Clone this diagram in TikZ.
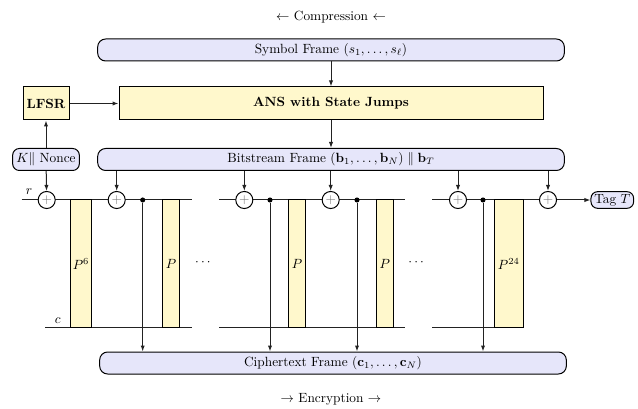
\documentclass[tikz,border=0pt]{standalone}
\usepackage{amsmath,amssymb}
\usepackage{tikz}
\usetikzlibrary{calc,arrows.meta,backgrounds}
\definecolor{framefill}{HTML}{E6E6FA}
\definecolor{permfill}{HTML}{FFF8CC}
\definecolor{rail}{HTML}{222222}
\begin{document}
\begin{tikzpicture}[x=0.75pt,y=-0.75pt,
  frame/.style={draw, fill=framefill, rounded corners=6pt, line width=0.75pt,
    minimum width=350pt, minimum height=16.5pt, inner sep=1pt},
  block/.style={draw, fill=permfill, line width=0.75pt, minimum height=24.75pt, inner sep=1pt},
  perm/.style={draw, fill=permfill, line width=0.75pt, minimum height=95.8pt, inner sep=0pt},
  xor/.style={circle, draw, fill=white, line width=0.75pt, minimum size=12.8pt, inner sep=0pt},
  dot/.style={circle, fill=black, minimum size=3.8pt, inner sep=0pt},
  arr/.style={-{Latex[length=4.5pt,width=3.2pt]}, line width=0.75pt, color=rail},
  ln/.style={line width=0.75pt, color=rail}]
\useasboundingbox (0,0) rectangle (638,409);
\def\top{200}
\def\bot{327.7}
% frames and blocks
\node at (331,17) {$\leftarrow$ Compression $\leftarrow$};
\node[frame] (sym) at (331,50) {Symbol Frame $(s_1,\ldots,s_\ell)$};
\node[block, minimum width=34.5pt] (lfsr) at (46,103.5) {\textbf{LFSR}};
\node[block, minimum width=318pt] (ans) at (331,103.5) {\textbf{ANS with State Jumps}};
\node[frame, minimum width=50pt, rounded corners=5pt] (key) at (46,159.5) {$K\|$ Nonce};
\node[frame] (bits) at (331,159.5) {Bitstream Frame $(\mathbf{b}_1,\ldots,\mathbf{b}_N)\;\|\;\mathbf{b}_T$};
\node[frame] (ctext) at (333,363) {Ciphertext Frame $(\mathbf{c}_1,\ldots,\mathbf{c}_N)$};
\node at (331,399) {$\rightarrow$ Encryption $\rightarrow$};
% permutations
\node[perm, minimum width=16pt] (p1) at (81,263.85) {$P^6$};
\node[perm, minimum width=13pt] (p2) at (171,263.85) {$P$};
\node[perm, minimum width=13pt] (p3) at (297,263.85) {$P$};
\node[perm, minimum width=13pt] (p4) at (384.8,263.85) {$P$};
\node[perm, minimum width=21.75pt] (p5) at (508.8,263.85) {$P^{24}$};
\node at (204,263) {$\cdots$};
\node at (417.3,263) {$\cdots$};
% xor gates and taps
\foreach \n/\x in {1/46.7,2/116.7,3/244.3,4/330.7,5/458,6/548}
  \node[xor] (x\n) at (\x,\top) {\color{black!55}$+$};
\foreach \n/\x in {1/142.7,2/270,3/357,4/483}
  \node[dot] (d\n) at (\x,\top) {};
\node[frame, minimum width=32pt, minimum height=12.5pt, rounded corners=5pt, inner sep=0.5pt] (tag) at (612.3,200) {Tag $T$};
\node at (29,192) {$r$};
\node at (57.7,320.5) {$c$};
% rate and capacity lines
\coordinate (rin) at (21.7,\top);
\coordinate (cin) at (45,\bot);
\coordinate (cend) at (432.3,\bot);
\begin{scope}[on background layer]
  \draw[ln] (rin) -- (191.7,\top);
  \draw[ln] (cin) -- (191.7,\bot);
  \draw[ln] (219,\top) -- (405.3,\top);
  \draw[ln] (219,\bot) -- (405.3,\bot);
  \draw[ln] (432.3,\top) -- (x6);
  \draw[ln] (cend) -- (cend -| p5.west);
\end{scope}
% connectors
\draw[arr] (sym) -- (ans);
\draw[arr] (lfsr) -- (ans);
\draw[arr] (key) -- (lfsr);
\draw[arr] (ans) -- (bits);
\draw[arr] (key) -- (x1);
\foreach \n in {2,...,6}
  \draw[arr] (bits.south -| x\n) -- (x\n);
\foreach \n in {1,...,4}
  \draw[arr] (d\n) -- (d\n |- ctext.north);
\draw[arr] (x6) -- (tag);
\end{tikzpicture}
\end{document}
